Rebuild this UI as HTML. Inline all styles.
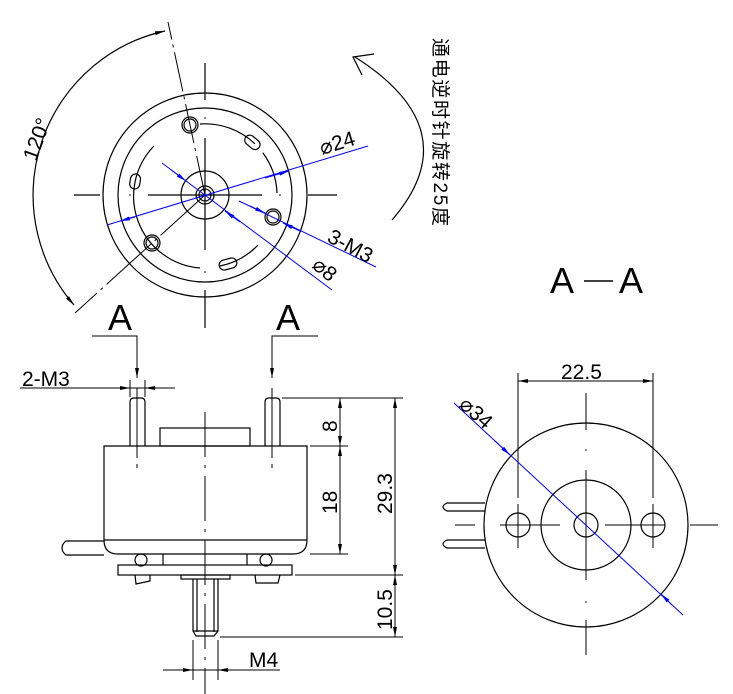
<!DOCTYPE html>
<html><head><meta charset="utf-8"><style>
html,body{margin:0;padding:0;background:#fff}
svg{display:block}
text{font-family:"Liberation Sans","Noto Sans CJK SC",sans-serif;fill:#000}
</style></head><body>
<svg width="733" height="694" viewBox="0 0 733 694" xmlns="http://www.w3.org/2000/svg">
<defs>
<marker id="a" viewBox="0 0 10 4" refX="10" refY="2" markerWidth="10" markerHeight="4" orient="auto-start-reverse" markerUnits="userSpaceOnUse"><path d="M0,0L10,2L0,4z" fill="#000"/></marker>
<marker id="b" viewBox="0 0 10 4" refX="10" refY="2" markerWidth="10" markerHeight="4" orient="auto-start-reverse" markerUnits="userSpaceOnUse"><path d="M0,0L10,2L0,4z" fill="#00f"/></marker>
</defs>
<g fill="none" stroke="#000" stroke-width="1.2">
<circle cx="205" cy="195" r="102"/>
<circle cx="205" cy="195" r="87"/>
<path d="M200,124 A72,72 0 0 1 277,193" stroke-dasharray="60,12,200"/>
<path d="M154,146 A72,72 0 0 0 200,268"/>
<path d="M258,245 A72,72 0 0 1 220,266"/>
<circle cx="205" cy="195" r="24"/>
<circle cx="205" cy="195" r="9"/>
<circle cx="205" cy="195" r="6"/>
<circle cx="190" cy="125" r="8"/><circle cx="190" cy="125" r="6"/>
<circle cx="273" cy="217" r="8"/><circle cx="273" cy="217" r="6"/>
<circle cx="152" cy="243" r="8"/><circle cx="152" cy="243" r="6"/>
<rect x="244" y="137" width="17" height="10" rx="5" transform="rotate(40 252 142)"/>
<rect x="128" y="177" width="15" height="10" rx="5" transform="rotate(-80 135 182)"/>
<rect x="219" y="259" width="18" height="10" rx="5" transform="rotate(-15 228 264)"/>
<line x1="205" y1="63" x2="205" y2="100"/><line x1="205" y1="138" x2="205" y2="250"/><line x1="205" y1="290" x2="205" y2="328"/>
<line x1="74" y1="195" x2="100" y2="195"/><line x1="148" y1="195" x2="262" y2="195"/><line x1="308" y1="195" x2="337" y2="195"/>
<line x1="205" y1="195" x2="168" y2="22" stroke-width="1" stroke-dasharray="40,5,3,5"/>
<line x1="205" y1="195" x2="75" y2="313" stroke-width="1" stroke-dasharray="60,5,3,5"/>
<path d="M165,31 A168,168 0 0 0 74,305" marker-start="url(#a)" marker-end="url(#a)"/>
<path d="M355,57 Q470,130 392,220"/>
<path d="M374,54 L353,57 L362,75"/>
<rect x="160" y="428" width="90" height="18"/>
<path d="M104,446 H307 V540 Q307,554 293,554 H118 Q104,554 104,540 Z"/>
<line x1="104" y1="540" x2="307" y2="540"/>
<path d="M130,446 V402 Q130,398 134,398 H141 Q145,398 145,402 V446"/>
<path d="M265,446 V402 Q265,398 269,398 H276 Q280,398 280,402 V446"/>
<path d="M104,541 H66 Q62,544 62,548 Q62,552 66,555 H104"/>
<circle cx="141" cy="560" r="6"/><circle cx="266" cy="560" r="6"/>
<line x1="163" y1="554" x2="163" y2="565"/><line x1="247" y1="554" x2="247" y2="565"/>
<rect x="118" y="565" width="174" height="10"/>
<path d="M135,575 L136,584 L150,581 L150,575"/>
<path d="M255,575 L256,583 L278,583 L280,575"/>
<rect x="181" y="575" width="49" height="4"/>
<path d="M193,579 V631 L196,636 H214 L218,631 V579"/>
<line x1="197" y1="579" x2="197" y2="632"/><line x1="214" y1="579" x2="214" y2="632"/>
<line x1="193" y1="631" x2="218" y2="631"/>
<line x1="205" y1="412" x2="205" y2="695" stroke-width="1" stroke-dasharray="45,8,3,8"/>
<line x1="137" y1="388" x2="137" y2="468" stroke-width="1" stroke-dasharray="70,6"/>
<line x1="272" y1="388" x2="272" y2="468" stroke-width="1" stroke-dasharray="70,6"/>
<g stroke-width="1">
<line x1="282" y1="398" x2="403" y2="398"/><line x1="310" y1="446" x2="348" y2="446"/>
<line x1="310" y1="554" x2="348" y2="554"/><line x1="295" y1="575" x2="403" y2="575"/>
<line x1="220" y1="637" x2="403" y2="637"/>
<line x1="340" y1="398" x2="340" y2="446" marker-start="url(#a)" marker-end="url(#a)"/>
<line x1="340" y1="446" x2="340" y2="554" marker-start="url(#a)" marker-end="url(#a)"/>
<line x1="395" y1="398" x2="395" y2="575" marker-start="url(#a)" marker-end="url(#a)"/>
<line x1="395" y1="575" x2="395" y2="637" marker-start="url(#a)" marker-end="url(#a)"/>
<line x1="20" y1="388" x2="175" y2="388"/>
<line x1="130" y1="380" x2="130" y2="397"/><line x1="145" y1="380" x2="145" y2="397"/>
<line x1="115" y1="388" x2="130" y2="388" marker-end="url(#a)"/><line x1="160" y1="388" x2="145" y2="388" marker-end="url(#a)"/>
<line x1="193" y1="640" x2="193" y2="680"/><line x1="218" y1="640" x2="218" y2="680"/>
<line x1="163" y1="670" x2="280" y2="670"/>
<line x1="165" y1="670" x2="193" y2="670" marker-end="url(#a)"/><line x1="245" y1="670" x2="218" y2="670" marker-end="url(#a)"/>
<path d="M92,336 H137 V378" marker-end="url(#a)"/>
<path d="M318,336 H272 V378" marker-end="url(#a)"/>
</g>
<circle cx="586" cy="525" r="102"/>
<circle cx="586" cy="525" r="45"/>
<circle cx="586" cy="525" r="12"/>
<circle cx="518" cy="525" r="12"/>
<circle cx="653" cy="525" r="12"/>
<path d="M485,503 H447 Q443,505 443,507 Q443,509 447,511 H485"/>
<path d="M485,540 H447 Q443,542 443,544 Q443,546 447,548 H485"/>
<g stroke-width="1">
<line x1="586" y1="393" x2="586" y2="430"/><line x1="586" y1="470" x2="586" y2="580"/><line x1="586" y1="620" x2="586" y2="655"/>
<line x1="455" y1="525" x2="475" y2="525"/><line x1="500" y1="525" x2="560" y2="525"/><line x1="605" y1="525" x2="665" y2="525"/><line x1="690" y1="525" x2="718" y2="525"/>
<line x1="518" y1="373" x2="518" y2="548" stroke-dasharray="125,6"/>
<line x1="653" y1="373" x2="653" y2="548" stroke-dasharray="125,6"/>
<line x1="518" y1="381" x2="653" y2="381" marker-start="url(#a)" marker-end="url(#a)"/>
</g>
</g>
<g fill="#000"><circle cx="586" cy="450" r="0.8"/><circle cx="586" cy="602" r="0.8"/><circle cx="205" cy="118" r="0.8"/><circle cx="205" cy="272" r="0.8"/><circle cx="130" cy="195" r="0.8"/><circle cx="280" cy="195" r="0.8"/></g>
<g stroke="#00f" stroke-width="1" fill="none">
<line x1="107" y1="225" x2="368" y2="146"/>
<line x1="135" y1="217" x2="120" y2="221" marker-end="url(#b)"/>
<line x1="265" y1="178" x2="289" y2="171" marker-end="url(#b)"/>
<line x1="162" y1="163" x2="332" y2="290"/>
<line x1="170" y1="169" x2="186" y2="181" marker-end="url(#b)"/>
<line x1="240" y1="222" x2="225" y2="211" marker-end="url(#b)"/>
<line x1="239" y1="201" x2="376" y2="267"/>
<line x1="250" y1="206" x2="265" y2="213" marker-end="url(#b)"/>
<line x1="300" y1="231" x2="283" y2="223" marker-end="url(#b)"/>
<line x1="454" y1="403" x2="683" y2="615"/>
<line x1="494" y1="440" x2="510" y2="455" marker-end="url(#b)"/>
<line x1="672" y1="605" x2="661" y2="594" marker-end="url(#b)"/>
</g>
<g font-size="21">
<text x="322" y="155" transform="rotate(-17 322 155)">⌀24</text>
<text x="326" y="241" transform="rotate(28 326 241)">3-M3</text>
<text x="311" y="267" transform="rotate(40 311 267)">⌀8</text>
<text x="36" y="162" transform="rotate(-70 36 162)">120°</text>
<text x="22" y="386">2-M3</text>
<text x="249" y="667">M4</text>
<text x="561" y="379">22.5</text>
<text x="458" y="406" transform="rotate(42 458 406)">⌀34</text>
<text x="337" y="432" transform="rotate(-90 337 432)">8</text>
<text x="337" y="514" transform="rotate(-90 337 514)">18</text>
<text x="392" y="514" transform="rotate(-90 392 514)">29.3</text>
<text x="392" y="630" transform="rotate(-90 392 630)">10.5</text>
</g>
<g font-size="36">
<text x="108" y="330" transform="scale(1 1)">A</text>
<text x="276" y="330">A</text>
<text x="550" y="293">A</text>
<text x="619" y="293">A</text>
</g>
<line x1="584" y1="281" x2="613" y2="281" stroke="#000" stroke-width="1.5"/>
<text x="434" y="38" font-size="19" font-family="Noto Serif CJK SC, serif" transform="rotate(90 434 38)" textLength="188">通电逆时针旋转25度</text>
</svg>
</body></html>
